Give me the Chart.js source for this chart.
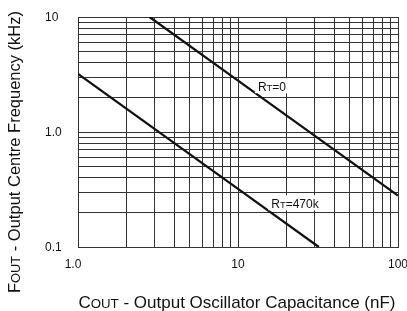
<!DOCTYPE html>
<html>
<head>
<meta charset="utf-8">
<script src="https://cdn.jsdelivr.net/npm/chart.js@4/dist/chart.umd.min.js"></script>
<style>
  html, body { margin: 0; padding: 0; background: #fff; }
  #wrap { width: 407px; height: 311px; position: relative; }
</style>
</head>
<body>
<div id="wrap"><canvas id="chart"></canvas></div>
<script>
// capacitance (nF) vs centre frequency (kHz)
const rt0Cap = [2.8, 10, 100];
const rt0Freq = [10, 2.8, 0.28];
const rt470kCap = [1, 10, 32];
const rt470kFreq = [3.2, 0.32, 0.1];

const xGrid = [1, 2, 3, 4, 5, 6, 7, 8, 9, 10, 20, 30, 40, 50, 60, 70, 80, 90, 100];
const yGrid = [0.1, 0.2, 0.3, 0.4, 0.5, 0.6, 0.7, 0.8, 0.9, 1, 2, 3, 4, 5, 6, 7, 8, 9, 10];
const xTickValues = [1, 10, 100];
const xTickLabels = ['1.0', '10', '100'];
const yTickValues = [0.1, 1, 10];
const yTickLabels = ['0.1', '1.0', '10'];

const curveLabels = [
	{ big: 'R', small: 'T', rest: '=0', x: 16.3, y: 2.5 },
	{ big: 'R', small: 'T', rest: '=470k', x: 22.7, y: 0.24 }
];

const FONT = '"Liberation Sans", Arial, sans-serif';
const GRID = '#333';

const toPts = (xs, ys) => xs.map((x, i) => ({ x: x, y: ys[i] }));

// draws "Big" + small caps piece + rest, returns width or draws
function smallCapsText(ctx, parts, size, x, y, align, doDraw) {
	let w = 0;
	const widths = parts.map(p => {
		ctx.font = (p.size * size) + 'px ' + FONT;
		const m = ctx.measureText(p.t).width;
		w += m;
		return m;
	});
	if (!doDraw) return w;
	let cx = align === 'center' ? x - w / 2 : x;
	ctx.textBaseline = 'alphabetic';
	ctx.textAlign = 'left';
	parts.forEach((p, i) => {
		ctx.font = (p.size * size) + 'px ' + FONT;
		ctx.fillText(p.t, cx, y);
		cx += widths[i];
	});
	return w;
}

const textPlugin = {
	id: 'textPlugin',
	afterDatasetsDraw(chart) {
		const ctx = chart.ctx;
		const xs = chart.scales.x, ys = chart.scales.y;
		ctx.save();
		ctx.fillStyle = '#111';

		// curve labels with white box
		curveLabels.forEach(l => {
			const px = xs.getPixelForValue(l.x);
			const py = ys.getPixelForValue(l.y);
			const parts = [{ t: l.big, size: 1 }, { t: l.small, size: 0.78 }, { t: l.rest, size: 1 }];
			const w = smallCapsText(ctx, parts, 12, 0, 0, 'left', false);
			ctx.fillStyle = '#fff';
			ctx.fillRect(px - w / 2 - 3, py - 8, w + 6, 15);
			ctx.fillStyle = '#111';
			smallCapsText(ctx, parts, 12, px, py + 4.5, 'center', true);
		});

		// tick labels
		ctx.font = '12px ' + FONT;
		ctx.textBaseline = 'middle';
		ctx.textAlign = 'left';
		yTickValues.forEach((v, i) => {
			ctx.fillText(yTickLabels[i], 45, ys.getPixelForValue(v) + 1);
		});
		ctx.textAlign = 'center';
		xTickValues.forEach((v, i) => {
			const shift = i === 0 ? -5 : 0;
			ctx.fillText(xTickLabels[i], xs.getPixelForValue(v) + shift, 265);
		});

		// axis titles
		const xParts = [{ t: 'C', size: 1 }, { t: 'OUT', size: 0.78 }, { t: ' - Output Oscillator Capacitance (nF)', size: 1 }];
		smallCapsText(ctx, xParts, 17, 237, 308, 'center', true);

		ctx.translate(20, 152);
		ctx.rotate(-Math.PI / 2);
		const yParts = [{ t: 'F', size: 1 }, { t: 'OUT', size: 0.78 }, { t: ' - Output Centre Frequency (kHz)', size: 1 }];
		smallCapsText(ctx, yParts, 16.5, 0, 0, 'center', true);
		ctx.restore();
	}
};

new Chart(document.getElementById('chart'), {
	type: 'scatter',
	data: {
		datasets: [
			{
				label: 'RT=0',
				data: toPts(rt0Cap, rt0Freq),
				showLine: true,
				borderColor: '#111',
				borderWidth: 2.3,
				pointRadius: 0
			},
			{
				label: 'RT=470k',
				data: toPts(rt470kCap, rt470kFreq),
				showLine: true,
				borderColor: '#111',
				borderWidth: 2.3,
				pointRadius: 0
			}
		]
	},
	options: {
		responsive: true,
		maintainAspectRatio: false,
		animation: false,
		layout: { padding: { left: 0, right: 9, top: 17, bottom: 0 } },
		plugins: { legend: { display: false }, tooltip: { enabled: false } },
		scales: {
			x: {
				type: 'logarithmic',
				min: 1,
				max: 100,
				afterBuildTicks: s => { s.ticks = xGrid.map(v => ({ value: v })); },
				afterFit: s => { s.height = 64; },
				ticks: { display: false },
				grid: { color: GRID, lineWidth: 1, drawTicks: false },
				border: { color: GRID, width: 1 }
			},
			y: {
				type: 'logarithmic',
				min: 0.1,
				max: 10,
				afterBuildTicks: s => { s.ticks = yGrid.map(v => ({ value: v })); },
				afterFit: s => { s.width = 78; },
				ticks: { display: false },
				grid: { color: GRID, lineWidth: 1, drawTicks: false },
				border: { color: GRID, width: 1 }
			}
		}
	},
	plugins: [textPlugin]
});
</script>
</body>
</html>
